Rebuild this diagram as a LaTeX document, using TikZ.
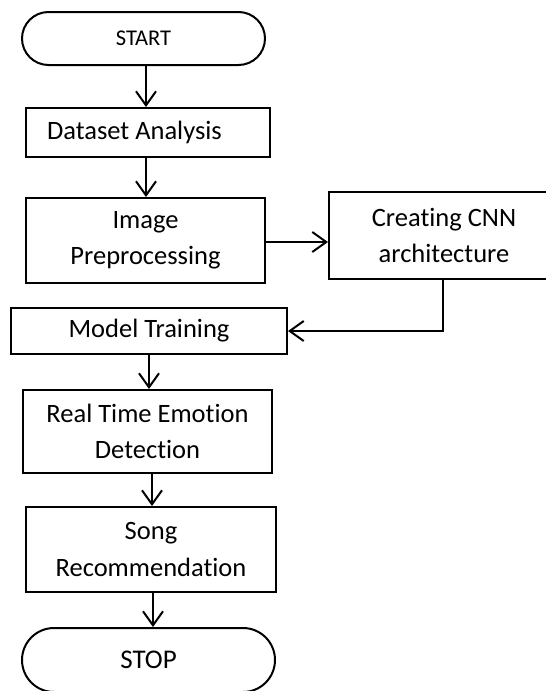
\documentclass[tikz,border=0pt]{standalone}
\usepackage{fontspec}
\setmainfont{Carlito}[Ligatures={NoCommon}]
\usetikzlibrary{arrows.meta,calc}
\begin{document}
\begin{tikzpicture}[x=1pt,y=-1pt,
  every node/.style={font=\fontsize{26.5}{36.5}\selectfont},
  procbox/.style={draw,line width=2pt,inner sep=0pt,align=center},
  termbox/.style={draw,line width=2pt,inner sep=0pt,align=center},
  flow/.style={line width=2pt,-{Straight Barb[length=14pt,width=20pt,line width=2pt]}}]
\useasboundingbox (0,0) rectangle (546,691);
\clip (0,0) rectangle (546,691);
\fill[white] (0,0) rectangle (546,691);
% terminators
\node[termbox,minimum width=243pt,minimum height=53pt,rounded corners=26.5pt,
  font=\fontsize{22.5}{24}\selectfont] (start) at (143.5,38.5) {START};
\node[termbox,minimum width=253pt,minimum height=64pt,rounded corners=32pt,
  font=\fontsize{27}{30}\selectfont] (stop) at (148.5,660) {STOP};
% process boxes
\node[procbox,text width=202pt,inner xsep=21pt,align=flush left,minimum height=49pt] (data) at (148,132.5) {Dataset Analysis};
\node[procbox,minimum width=239pt,minimum height=85pt] (img) at (145.5,240.5) {Image\\Preprocessing};
\node[procbox,minimum width=230pt,minimum height=87pt] (cnn) at (444,235.5) {Creating CNN\\architecture};
\node[procbox,minimum width=276pt,minimum height=46pt] (model) at (149,331) {Model Training};
\node[procbox,minimum width=249pt,minimum height=83pt] (rt) at (147.5,431.5) {Real Time Emotion\\Detection};
\node[procbox,minimum width=250pt,minimum height=85pt] (song) at (151,549.5) {Song\\Recommendation};
% connector start points
\coordinate (c1) at ($(start.south)+(2.5,0)$);
\coordinate (c2) at ($(data.south)+(-2,0)$);
\coordinate (c3) at ($(img.east)+(0,1.5)$);
\coordinate (c4) at ($(cnn.south)+(-1,0)$);
\coordinate (c6) at ($(rt.south)+(4.5,0)$);
\coordinate (c7) at ($(song.south)+(2,0)$);
% connectors
\draw[flow] (c1) -- (c1 |- data.north);
\draw[flow] (c2) -- (c2 |- img.north);
\draw[flow] (c3) -- (c3 -| cnn.west);
\draw[flow] (c4) |- (model.east);
\draw[flow] (model.south) -- (model.south |- rt.north);
\draw[flow] (c6) -- (c6 |- song.north);
\draw[flow] (c7) -- (c7 |- stop.north);
\end{tikzpicture}
\end{document}
